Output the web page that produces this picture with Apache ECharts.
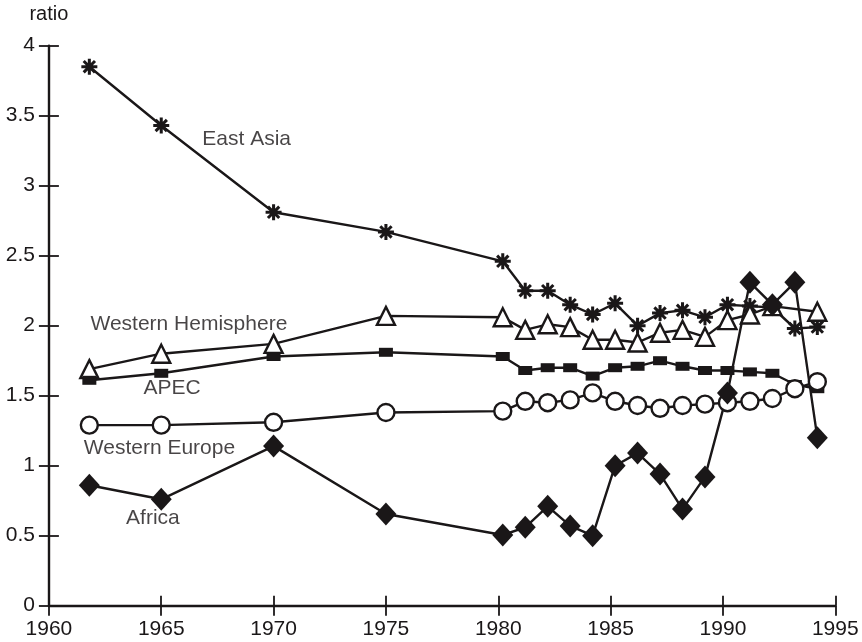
<!DOCTYPE html>
<html>
<head>
<meta charset="utf-8">
<script src="https://cdn.jsdelivr.net/npm/echarts@6/dist/echarts.min.js"></script>
<style>
html,body{margin:0;padding:0;background:#fff;}
#chart{width:862px;height:642px;}
</style>
</head>
<body>
<div id="chart"></div>
<script>
// ---- data ----
const years = [1961.8, 1965, 1970, 1975, 1980.2, 1981.2, 1982.2, 1983.2, 1984.2, 1985.2, 1986.2, 1987.2, 1988.2, 1989.2, 1990.2, 1991.2, 1992.2, 1993.2, 1994.2];
const eastAsia = [3.85, 3.43, 2.81, 2.67, 2.46, 2.25, 2.25, 2.15, 2.08, 2.16, 2.00, 2.09, 2.11, 2.06, 2.15, 2.14, 2.13, 1.98, 1.99];
const westernHemisphere = [1.69, 1.80, 1.87, 2.07, 2.06, 1.97, 2.01, 1.99, 1.90, 1.90, 1.88, 1.95, 1.97, 1.92, 2.04, 2.08, 2.14, null, 2.10];
const apec = [1.61, 1.66, 1.78, 1.81, 1.78, 1.68, 1.70, 1.70, 1.64, 1.70, 1.71, 1.75, 1.71, 1.68, 1.68, 1.67, 1.66, 1.58, 1.55];
const westernEurope = [1.29, 1.29, 1.31, 1.38, 1.39, 1.46, 1.45, 1.47, 1.52, 1.46, 1.43, 1.41, 1.43, 1.44, 1.45, 1.46, 1.48, 1.55, 1.60];
const africa = [0.86, 0.76, 1.14, 0.655, 0.505, 0.56, 0.71, 0.57, 0.50, 1.00, 1.09, 0.94, 0.69, 0.92, 1.52, 2.31, 2.15, 2.31, 1.20];

const labelNames = ['East Asia', 'Western Hemisphere', 'APEC', 'Western Europe', 'Africa'];
const labelX = [1968.8, 1966.23, 1965.48, 1964.92, 1964.63];
const labelY = [3.33, 2.01, 1.55, 1.126, 0.623];

const xMin = 1960, xMax = 1995, xStep = 5;
const yMin = 0, yMax = 4, yStep = 0.5;
const yName = 'ratio';

// ---- chart ----
const INK = '#1a1718';
const FONT = 'Liberation Sans, Arial, Helvetica, sans-serif';
const asterisk = 'path://M-0.19,-1L0.19,-1L0.19,1L-0.19,1Z M-1,-0.19L1,-0.19L1,0.19L-1,0.19Z M0.573,-0.841L0.841,-0.573L-0.573,0.841L-0.841,0.573Z M-0.841,-0.573L-0.573,-0.841L0.841,0.573L0.573,0.841Z';

function pairs(vals) { return years.map((x, i) => [x, vals[i]]); }

function lineSeries(name, vals, symbol, size, filled) {
  return {
    name: name,
    type: 'line',
    data: pairs(vals),
    connectNulls: true,
    symbol: symbol,
    symbolSize: size,
    showAllSymbol: true,
    lineStyle: { color: INK, width: 2.4 },
    itemStyle: { color: filled ? INK : '#fff', borderColor: INK, borderWidth: filled ? 0 : 2.4 },
    emphasis: { disabled: true },
    animation: false
  };
}

const chart = echarts.init(document.getElementById('chart'), null, { renderer: 'canvas' });

const axisCommon = {
  type: 'value',
  splitLine: { show: false },
  axisLine: { show: true, onZero: false, lineStyle: { color: INK, width: 2.4 } }
};
const tickStyle = { color: INK, width: 1.8 };

chart.setOption({
  animation: false,
  backgroundColor: '#fff',
  grid: { left: 48.9, right: 26.7, top: 45.7, bottom: 36.3, containLabel: false },
  xAxis: [
    Object.assign({}, axisCommon, {
      position: 'bottom', min: xMin, max: xMax, interval: xStep,
      axisTick: { show: true, inside: false, length: 10, lineStyle: tickStyle },
      axisLabel: { show: true, margin: 13, color: INK, fontSize: 21, fontFamily: FONT, formatter: v => String(v) }
    }),
    Object.assign({}, axisCommon, {
      position: 'bottom', min: xMin, max: xMax, interval: xStep,
      axisLine: { show: false, onZero: false },
      axisTick: { show: true, inside: true, length: 10, lineStyle: tickStyle },
      axisLabel: { show: false }
    })
  ],
  yAxis: [
    Object.assign({}, axisCommon, {
      position: 'left', min: yMin, max: yMax, interval: yStep,
      name: yName, nameLocation: 'end', nameGap: 21,
      nameTextStyle: { color: INK, fontSize: 20, fontFamily: FONT, align: 'center' },
      axisTick: { show: true, inside: false, length: 10, lineStyle: tickStyle },
      axisLabel: { show: true, margin: 14, color: INK, fontSize: 21, fontFamily: FONT }
    }),
    Object.assign({}, axisCommon, {
      position: 'left', min: yMin, max: yMax, interval: yStep,
      axisLine: { show: false, onZero: false },
      axisTick: { show: true, inside: true, length: 10, lineStyle: tickStyle },
      axisLabel: { show: false }
    })
  ],
  series: [
    lineSeries('East Asia', eastAsia, asterisk, 16, true),
    lineSeries('Western Hemisphere', westernHemisphere, 'triangle', 18, false),
    lineSeries('APEC', apec, 'rect', [14, 9], true),
    lineSeries('Western Europe', westernEurope, 'circle', 17, false),
    lineSeries('Africa', africa, 'diamond', [21, 23], true),
    {
      type: 'scatter',
      data: labelNames.map((n, i) => [labelX[i], labelY[i], n]),
      symbolSize: 1,
      itemStyle: { color: 'rgba(0,0,0,0)' },
      silent: true,
      z: 10,
      label: {
        show: true, position: 'inside', formatter: p => p.data[2],
        color: INK, fontSize: 21, fontFamily: FONT
      },
      animation: false
    }
  ]
});
</script>
</body>
</html>
